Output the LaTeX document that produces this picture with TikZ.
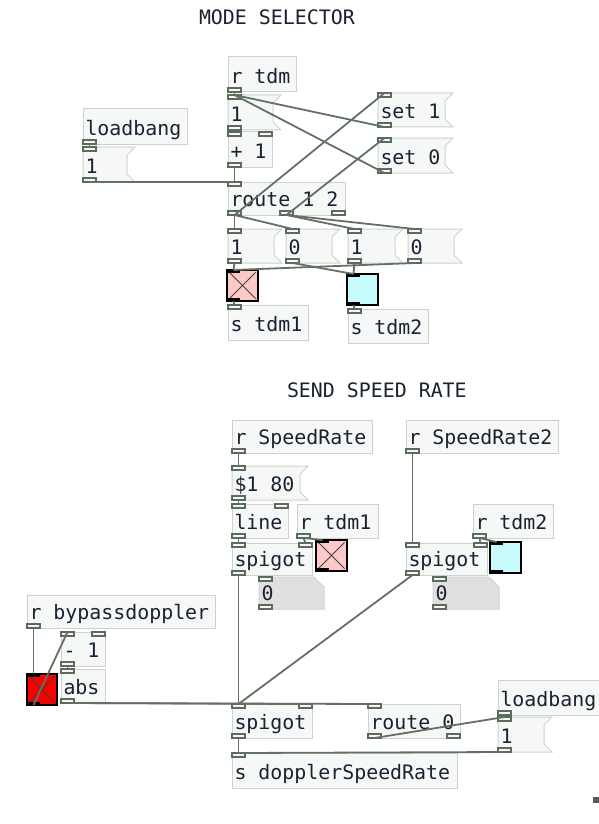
\documentclass[tikz,border=0pt]{standalone}
\usepackage{fontspec}
\newfontfamily\pdfont{DejaVu Sans Mono}
\usetikzlibrary{calc}
\definecolor{boxfill}{RGB}{246,248,248}
\definecolor{boxline}{RGB}{206,210,206}
\definecolor{portline}{RGB}{92,108,92}
\definecolor{wire}{RGB}{98,114,98}
\definecolor{txt}{RGB}{26,34,48}
\definecolor{numfill}{RGB}{224,224,224}
\definecolor{numline}{RGB}{210,210,210}
\definecolor{togpink}{RGB}{252,200,200}
\definecolor{togcyan}{RGB}{200,252,252}
\definecolor{togred}{RGB}{250,0,0}
\newcommand\PDobj[6]{%
  \node[objbox, anchor=north west, minimum width={(#4)-(#2)}, minimum height={(#5)-(#3)}] (#1) at (#2,#3) {};
  \node[pdtext, anchor=base west] (#1-t) at ({#2+2.5},{#5-8.5}) {#6};
}
\newcommand\PDmsg[6]{%
  \node[ghost, anchor=north west, minimum width={(#4)-(#2)}, minimum height={(#5)-(#3)}] (#1) at (#2,#3) {};
  \draw[msgbox] (#1.north west) -- (#1.north east) -- ($(#1.north east)+(-8,8)$) -- ($(#1.south east)+(-8,-8)$) -- (#1.south east) -- (#1.south west) -- cycle;
  \node[pdtext, anchor=base west] (#1-t) at ({#2+2.5},{#5-8.5}) {#6};
}
\newcommand\PDnum[6]{%
  \node[ghost, anchor=north west, minimum width={(#4)-(#2)}, minimum height={(#5)-(#3)}] (#1) at (#2,#3) {};
  \draw[numbox] (#1.north west) -- ($(#1.north east)+(-10,0)$) -- ($(#1.north east)+(0,10)$) -- (#1.south east) -- (#1.south west) -- cycle;
  \node[pdtext, anchor=base west] (#1-t) at ({#2+2.5},{#5-8.5}) {#6};
}
\newcommand\PDtog[7]{%
  \node[ghost, anchor=north west, minimum width={(#4)-(#2)}, minimum height={(#5)-(#3)}] (#1) at (#2,#3) {};
  \draw[draw=black, line width=1.6, fill=#6] (#1.north west) rectangle (#1.south east);
  \ifnum#7=1 \draw[black!75, line width=0.9] ($(#1.north west)+(2.5,2.5)$) -- ($(#1.south east)+(-2.5,-2.5)$) ($(#1.north east)+(-2.5,2.5)$) -- ($(#1.south west)+(2.5,-2.5)$);\fi
  \fill[black] (#1.north west) rectangle ++(13,3);
  \fill[black] (#1.south west) rectangle ++(13,-3);
  \coordinate (#1-i0) at ($(#1.north west)+(6.5,0)$);
  \coordinate (#1-o0) at ($(#1.south west)+(6.5,0)$);
}
\newcommand\PDin[3]{%
  \draw[port] ($(#1.north west)+(#3,0)$) rectangle ++(13,4);
  \coordinate (#1-i#2) at ($(#1.north west)+(#3+6.5,0)$);
}
\newcommand\PDout[3]{%
  \draw[port] ($(#1.south west)+(#3,0)$) rectangle ++(13,-4);
  \coordinate (#1-o#2) at ($(#1.south west)+(#3+6.5,0)$);
}
\begin{document}
\begin{tikzpicture}[x=1pt,y=-1pt,
  objbox/.style={draw=boxline, fill=boxfill, line width=1, inner sep=0, outer sep=0, rectangle},
  ghost/.style={inner sep=0, outer sep=0, rectangle},
  msgbox/.style={draw=boxline, fill=boxfill, line width=1},
  numbox/.style={draw=numline, fill=numfill, line width=1},
  pdtext/.style={text=txt, font=\pdfont\fontsize{19.9}{20}\selectfont, inner sep=0, outer sep=0},
  port/.style={draw=portline, fill=boxfill, line width=1.1},
  wireline/.style={draw=wire, line width=1.8}]
\useasboundingbox (0,0) rectangle (599,824);
\fill[white] (0,0) rectangle (599,824);

% titles
\node[pdtext, anchor=base west] (title1) at (199,25) {MODE SELECTOR};
\node[pdtext, anchor=base west] (title2) at (287,397) {SEND SPEED RATE};

% ---------- mode selector ----------
\PDobj{rtdm}{228}{57}{296}{92}{r tdm}
\PDout{rtdm}{0}{0}
\PDmsg{mone}{228}{95}{281}{130}{1}
\PDin{mone}{0}{0}\PDout{mone}{0}{0}
\PDobj{plusone}{228}{132}{272}{167}{+ 1}
\PDin{plusone}{0}{0}\PDin{plusone}{1}{31}\PDout{plusone}{0}{0}
\PDobj{lbA}{83}{109}{187}{144}{loadbang}
\PDout{lbA}{0}{0}
\PDmsg{lbAone}{83}{147}{135}{182}{1}
\PDin{lbAone}{0}{0}\PDout{lbAone}{0}{0}
\PDmsg{setone}{378}{93}{453}{127}{set 1}
\PDin{setone}{0}{0}\PDout{setone}{0}{0}
\PDmsg{setzero}{378}{138}{453}{173}{set 0}
\PDin{setzero}{0}{0}\PDout{setzero}{0}{0}
\PDobj{routeA}{228}{182}{345}{215}{route 1 2}
\PDin{routeA}{0}{0}\PDout{routeA}{0}{0}\PDout{routeA}{1}{52}\PDout{routeA}{2}{104}
\PDmsg{ma}{228}{229}{282}{263}{1}
\PDin{ma}{0}{0}\PDout{ma}{0}{0}
\PDmsg{mb}{286}{229}{340}{263}{0}
\PDin{mb}{0}{0}\PDout{mb}{0}{0}
\PDmsg{mc}{348}{229}{403}{263}{1}
\PDin{mc}{0}{0}\PDout{mc}{0}{0}
\PDmsg{md}{408}{229}{462}{263}{0}
\PDin{md}{0}{0}\PDout{md}{0}{0}
\PDtog{tga}{227}{270}{258}{301}{togpink}{1}
\PDtog{tgb}{347}{274}{378}{305}{togcyan}{0}
\PDobj{stdmone}{228}{305}{308}{340}{s tdm1}
\PDin{stdmone}{0}{0}
\PDobj{stdmtwo}{348}{309}{428}{343}{s tdm2}
\PDin{stdmtwo}{0}{0}

% ---------- send speed rate ----------
\PDobj{rsr}{232}{420}{372}{453}{r SpeedRate}
\PDout{rsr}{0}{0}
\PDmsg{dollar}{232}{466}{308}{500}{\$1 80}
\PDin{dollar}{0}{0}\PDout{dollar}{0}{0}
\PDobj{lineo}{232}{504}{288}{538}{line}
\PDin{lineo}{0}{0}\PDin{lineo}{1}{43}\PDout{lineo}{0}{0}
\PDobj{rtdmone}{297}{504}{378}{538}{r tdm1}
\PDout{rtdmone}{0}{0}
\PDobj{spgl}{232}{543}{312}{575}{spigot}
\PDin{spgl}{0}{0}\PDin{spgl}{1}{67}\PDout{spgl}{0}{0}
\PDtog{tgc}{316}{540}{347}{571}{togpink}{1}
\PDnum{numl}{259}{577}{324}{609}{0}
\PDin{numl}{0}{0}\PDout{numl}{0}{0}
\PDobj{rsrtwo}{406}{420}{558}{453}{r SpeedRate2}
\PDout{rsrtwo}{0}{0}
\PDobj{rtdmtwo}{473}{504}{553}{538}{r tdm2}
\PDout{rtdmtwo}{0}{0}
\PDobj{spgr}{406}{543}{487}{575}{spigot}
\PDin{spgr}{0}{0}\PDin{spgr}{1}{68}\PDout{spgr}{0}{0}
\PDtog{tgd}{490}{542}{521}{573}{togcyan}{0}
\PDnum{numr}{433}{577}{499}{609}{0}
\PDin{numr}{0}{0}\PDout{numr}{0}{0}
\PDobj{rbd}{27}{595}{215}{628}{r bypassdoppler}
\PDout{rbd}{0}{0}
\PDobj{minus}{61}{632}{105}{666}{- 1}
\PDin{minus}{0}{0}\PDin{minus}{1}{31}\PDout{minus}{0}{0}
\PDobj{absb}{61}{669}{105}{703}{abs}
\PDin{absb}{0}{0}\PDout{absb}{0}{0}
\PDtog{tge}{27}{674}{57}{705}{togred}{1}
\PDobj{spgb}{232}{704}{312}{738}{spigot}
\PDin{spgb}{0}{0}\PDin{spgb}{1}{67}\PDout{spgb}{0}{0}
\PDobj{sdop}{232}{753}{457}{788}{s dopplerSpeedRate}
\PDin{sdop}{0}{0}
\PDobj{routeB}{368}{704}{460}{738}{route 0}
\PDin{routeB}{0}{0}\PDout{routeB}{0}{0}\PDout{routeB}{1}{79}
\PDobj{lbB}{498}{680}{602}{715}{loadbang}
\PDout{lbB}{0}{0}
\PDmsg{lbBone}{498}{717}{552}{752}{1}
\PDin{lbBone}{0}{0}\PDout{lbBone}{0}{0}
\fill[black!65] (593,797) rectangle (599,803);

% ---------- connections ----------
\draw[wireline] (rtdm-o0) -- (mone-i0);
\draw[wireline] (setone-o0) -- (mone-i0);
\draw[wireline] (setzero-o0) -- (mone-i0);
\draw[wireline] (mone-o0) -- (plusone-i0);
\draw[wireline] (plusone-o0) -- (routeA-i0);
\draw[wireline] (lbA-o0) -- (lbAone-i0);
\draw[wireline] (lbAone-o0) -- (routeA-i0);
\draw[wireline] (routeA-o0) -- (setone-i0);
\draw[wireline] (routeA-o1) -- (setzero-i0);
\draw[wireline] (routeA-o0) -- (ma-i0);
\draw[wireline] (routeA-o0) -- (mb-i0);
\draw[wireline] (routeA-o1) -- (mc-i0);
\draw[wireline] (routeA-o1) -- (md-i0);
\draw[wireline] (ma-o0) -- (tga-i0);
\draw[wireline] (md-o0) -- (tga-i0);
\draw[wireline] (mc-o0) -- (tgb-i0);
\draw[wireline] (mb-o0) -- (tgb-i0);
\draw[wireline] (tga-o0) -- (stdmone-i0);
\draw[wireline] (tgb-o0) -- (stdmtwo-i0);

\draw[wireline] (rsr-o0) -- (dollar-i0);
\draw[wireline] (dollar-o0) -- (lineo-i0);
\draw[wireline] (lineo-o0) -- (spgl-i0);
\draw[wireline] (rtdmone-o0) -- (spgl-i1);
\draw[wireline] (rtdmone-o0) -- (tgc-i0);
\draw[wireline] (spgl-o0) -- (spgb-i0);
\draw[wireline] (rsrtwo-o0) -- (spgr-i0);
\draw[wireline] (rtdmtwo-o0) -- (spgr-i1);
\draw[wireline] (rtdmtwo-o0) -- (tgd-i0);
\draw[wireline] (spgr-o0) -- (spgb-i0);
\draw[wireline] (rbd-o0) -- (tge-i0);
\draw[wireline] (tge-o0) -- (minus-i0);
\draw[wireline] (minus-o0) -- (absb-i0);
\draw[wireline] (absb-o0) -- (spgb-i1);
\draw[wireline] (absb-o0) -- (routeB-i0);
\draw[wireline] (spgb-o0) -- (sdop-i0);
\draw[wireline] (lbB-o0) -- (lbBone-i0);
\draw[wireline] (routeB-o0) -- (lbBone-i0);
\draw[wireline] (lbBone-o0) -- (sdop-i0);
\end{tikzpicture}
\end{document}
